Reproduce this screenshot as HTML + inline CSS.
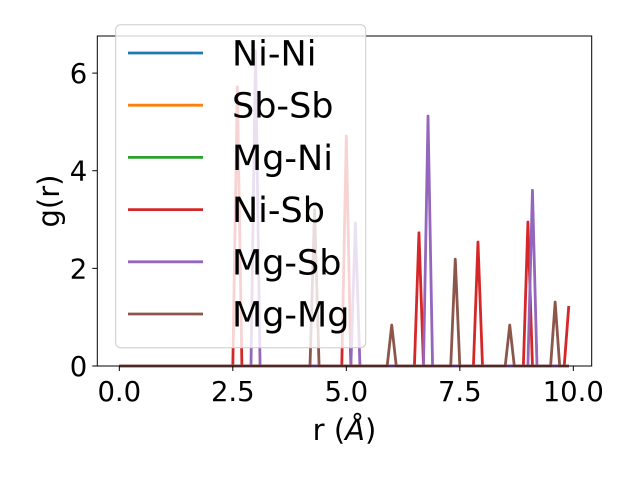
<!DOCTYPE html>
<html><head><meta charset="utf-8"><style>
body{margin:0;background:#fff}
svg text{font-family:"DejaVu Sans","Liberation Sans",sans-serif;fill:#000}
</style></head><body>
<svg width="640" height="480" viewBox="0 0 640 480">
<rect width="640" height="480" fill="#fff"/>
<g id="plot"></g>
<g id="axes"></g>
<g id="legend"></g>
</svg>
<script>
// data
const seriesNames = ["Ni-Ni","Sb-Sb","Mg-Ni","Ni-Sb","Mg-Sb","Mg-Mg"];
const seriesColors = ["#1f77b4","#ff7f0e","#2ca02c","#d62728","#9467bd","#8c564b"];
const rMax = 9.9;
const niNiR = [], niNiG = [];
const sbSbR = [], sbSbG = [];
const mgNiR = [], mgNiG = [];
const niSbR = [2.6, 5.0, 6.6, 7.9, 9.0, 9.9];
const niSbG = [5.72, 4.71, 2.73, 2.54, 2.95, 1.23];
const mgSbR = [3.0, 5.2, 6.8, 9.1];
const mgSbG = [6.45, 2.93, 5.12, 3.6];
const mgMgR = [4.3, 6.0, 7.4, 8.6, 9.6];
const mgMgG = [3.2, 0.84, 2.19, 0.84, 1.31];
const xTicks = [0, 2.5, 5, 7.5, 10];
const xTickLabels = ["0.0","2.5","5.0","7.5","10.0"];
const yTicks = [0, 2, 4, 6];
const yTickLabels = ["0","2","4","6"];

const NS = "http://www.w3.org/2000/svg";
const L = 97.3, R = 591.7, T = 36, B = 366;
const xMin = -0.485, xMax = 10.405, yMin = 0, yMax = 6.76;
const xs = v => L + (v - xMin) / (xMax - xMin) * (R - L);
const ys = v => B - (v - yMin) / (yMax - yMin) * (B - T);
function mk(tag, attrs, parent){const e=document.createElementNS(NS,tag);for(const k in attrs)e.setAttribute(k,attrs[k]);parent.appendChild(e);return e;}

const plot = document.getElementById('plot');
const allR = [niNiR, sbSbR, mgNiR, niSbR, mgSbR, mgMgR];
const allG = [niNiG, sbSbG, mgNiG, niSbG, mgSbG, mgMgG];
allR.forEach((rs, i) => {
  const gs = allG[i];
  const pts = [[0, 0]];
  rs.forEach((r, j) => {
    if (r - 0.1 > 0) pts.push([r - 0.1, 0]);
    pts.push([r, gs[j]]);
    if (r + 0.1 <= rMax + 1e-9) pts.push([r + 0.1, 0]);
  });
  if (pts[pts.length - 1][0] < rMax - 1e-9) pts.push([rMax, 0]);
  const p = mk('polyline', {points: pts.map(q => xs(q[0]).toFixed(2) + ',' + ys(q[1]).toFixed(2)).join(' '),
    fill: 'none', stroke: seriesColors[i], 'stroke-width': 2.8, 'stroke-linejoin': 'round'}, plot);
  
  
});

const axes = document.getElementById('axes');
const frame = mk('rect', {x: L, y: T, width: R - L, height: B - T, fill: 'none', stroke: '#000', 'stroke-width': 1}, axes);


xTicks.forEach((t, i) => {
  const x = xs(t);
  const tk = mk('line', {x1: x, x2: x, y1: B, y2: B + 5, stroke: '#000'}, axes);
  
  
  const tx = mk('text', {x: x, y: B + 35, 'text-anchor': 'middle', 'font-size': 27.5}, axes);
  tx.textContent = xTickLabels[i];
  
  
});
yTicks.forEach((t, i) => {
  const y = ys(t);
  const tk = mk('line', {x1: L - 5, x2: L, y1: y, y2: y, stroke: '#000'}, axes);
  
  
  const tx = mk('text', {x: L - 10, y: y + 10, 'text-anchor': 'end', 'font-size': 27.5}, axes);
  tx.textContent = yTickLabels[i];
  
  
});
const xl = mk('text', {x: (L + R) / 2, y: 440, 'text-anchor': 'middle', 'font-size': 29}, axes);
xl.innerHTML = 'r (<tspan font-style="italic">Å</tspan>)';


const yl = mk('text', {x: 0, y: 0, 'text-anchor': 'middle', 'font-size': 29, transform: 'translate(59,' + ((T + B) / 2) + ') rotate(-90)'}, axes);
yl.textContent = 'g(r)';



const legend = document.getElementById('legend');
const box = mk('rect', {x: 115.7, y: 24.7, width: 250, height: 323, rx: 5, fill: '#fff', 'fill-opacity': 0.8, stroke: '#ccc', 'stroke-width': 1}, legend);


seriesNames.forEach((n, i) => {
  const y = 53 + i * 52.2;
  const ln = mk('line', {x1: 128, x2: 203, y1: y, y2: y, stroke: seriesColors[i], 'stroke-width': 2.8}, legend);
  
  
  const tx = mk('text', {x: 232, y: y + 12.5, 'font-size': 35}, legend);
  tx.textContent = n;
  
  
});
</script>
</body></html>
